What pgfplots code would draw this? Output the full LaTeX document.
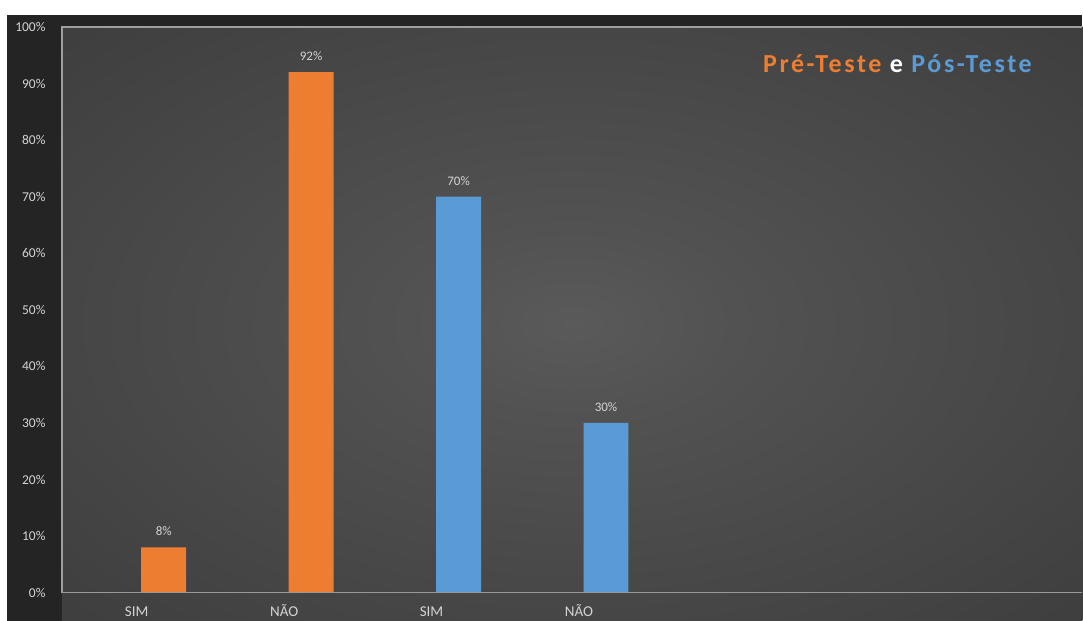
\documentclass[border=0pt]{standalone}
\usepackage{pgfplots}
\pgfplotsset{compat=1.18}
\usepackage{fontspec}
\setmainfont{Carlito}
\definecolor{orng}{HTML}{ED7D31}
\definecolor{blu}{HTML}{5B9BD5}
\definecolor{txt}{HTML}{D4D4D4}
\definecolor{c0}{HTML}{5A5A5A}
\definecolor{c1}{HTML}{525252}
\definecolor{c2}{HTML}{3B3B3B}
\definecolor{c3}{HTML}{2C2C2C}
\pgfdeclareradialshading{bgshade}{\pgfpoint{0bp}{0bp}}{color(0bp)=(c0); color(8bp)=(c1); color(40bp)=(c2); color(72bp)=(c3)}
\begin{document}
\begin{tikzpicture}[x=1pt,y=1pt]
\fill[white] (0,0) rectangle (1083,-621);
\fill[black!86] (7,-15) rectangle (1083,-621);
\shade[shading=bgshade] (62,-27) rectangle (1083,-621);
\draw[gray!75, line width=1.2pt] (62,-593) -- (62,-27) -- (1083,-27);
\begin{axis}[
  at={(62pt,-593pt)}, anchor=south west,
  scale only axis, width=1021pt, height=566pt,
  ymin=0, ymax=100,
  xmin=-0.69, xmax=6.23,
  axis line style={draw=none},
  ybar, bar width=45pt, bar shift=0pt,
  ytick={0,10,...,100},
  yticklabels={0\%,10\%,20\%,30\%,40\%,50\%,60\%,70\%,80\%,90\%,100\%},
  xtick={0,1,2,3},
  xticklabels={SIM,NÃO,SIM,NÃO},
  major tick length=0pt,
  /pgf/number format/assume math mode=true,
  y tick label style={font=\fontsize{13.5}{15}\selectfont, text=txt, anchor=east, xshift=-13pt},
  x tick label style={font=\fontsize{15}{17}\selectfont, text=txt, xshift=-27pt, yshift=-7pt, text height=13pt, text depth=0pt},
  nodes near coords={\pgfmathprintnumber{\pgfplotspointmeta}\%},
  every node near coord/.append style={font=\fontsize{13}{15}\selectfont, text=txt, yshift=8pt},
  clip=false,
]
\addplot[fill=orng, draw=none] coordinates {(0,8) (1,92)};
\addplot[fill=blu, draw=none] coordinates {(2,70) (3,30)};
\end{axis}
\draw[gray!80, line width=1.5pt] (62,-593) -- (1083,-593);
\node[font=\fontsize{26}{30}\selectfont\bfseries\addfontfeature{LetterSpace=10}] at (898,-64)
  {\textcolor{orng}{Pré-Teste} \textcolor{white}{e} \textcolor{blu}{Pós-Teste}};
\end{tikzpicture}
\end{document}
